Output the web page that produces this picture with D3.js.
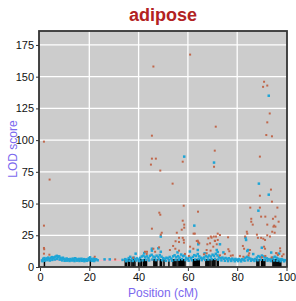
<!DOCTYPE html>
<html>
<head>
<meta charset="utf-8">
<script src="https://cdn.jsdelivr.net/npm/d3@7"></script>
<style>
  body { margin: 0; background: #fff; }
  text { font-family: "Liberation Sans", Arial, sans-serif; }
</style>
</head>
<body>
<svg id="chart" width="296" height="301"></svg>
<script>
// values: [position cM, LOD]
const brownPts = [
  [1.6,98.8],[3.9,68.9],[1.6,32.6],[1.6,15.0],[1.7,14.0],[1.6,10.5],[3.8,9.7],[22.2,8.1],[30.5,6.0],[37.8,7.3],
  [43.4,12.0],[42.6,12.0],[43.3,10.3],
  [60.9,167.4],[46.0,158.0],[90.9,146.0],[92.2,143.0],[90.5,142.0],[93.2,121.0],[92.2,114.0],[71.3,110.6],
  [91.8,104.0],[94.1,103.0],[45.4,103.5],[70.9,91.7],[45.4,85.4],[47.0,85.4],[89.2,87.0],
  [57.9,83.0],[45.0,80.7],[48.8,76.0],[53.8,65.7],[58.3,48.3],[64.1,43.6],[48.4,42.8],[48.8,41.2],[57.9,36.5],
  [58.5,33.4],[58.5,31.0],[45.4,30.2],[57.5,29.4],
  [70.6,79.0],[93.7,61.0],[89.2,56.2],[94.1,51.5],[85.3,46.8],[89.2,46.8],[96.3,46.8],[89.7,39.7],[91.4,39.7],
  [95.5,39.7],[85.7,38.0],[94.5,38.0],[85.7,35.7],[96.8,35.7],[86.3,33.4],[92.2,33.4],[95.0,32.6],[95.5,31.8],
  [55.5,27.0],[62.3,26.3],[62.8,26.3],[49.4,27.0],[49.0,25.5],[72.1,26.3],[70.5,24.0],[69.3,24.0],[57.9,23.0],
  [58.3,21.3],[56.4,23.0],[84.1,26.3],[88.0,25.5],[88.4,23.0],[89.7,23.0],[95.2,27.0],[64.0,20.7],[64.2,19.7],
  [72.1,21.3],[70.9,20.7],[76.3,23.4],[55.0,20.3],[56.4,19.7],[58.4,19.2],[90.6,22.3],[91.3,21.3],[71.7,17.9],
  [67.9,17.9],[82.3,16.6],[82.8,14.4],[90.9,16.0],[91.3,14.4],[54.0,16.6],[54.9,14.4],[60.9,16.0],[62.2,14.4],
  [48.3,15.5],[46.0,14.4],[52.7,13.4],[46.7,12.0],[56.4,12.9],[58.8,10.3],[60.4,8.7],[69.2,12.9],[67.6,10.8],
  [76.4,14.0],[76.8,12.4],[75.0,10.3],[73.0,9.2],[78.2,9.2],[81.1,8.7],[82.5,8.1],[84.6,9.2],[90.0,7.6],
  [91.4,8.7],[94.0,7.6],[95.8,11.0],[96.5,9.5],[97.5,12.5],[98.2,8.5],[98.8,10.0],
  [92.2,25.0],[93.3,24.0],[94.2,27.8],[94.7,31.8],[97.4,14.7],[96.0,10.8],[85.2,13.4],[84.9,10.8],[77.4,8.9],
  [63.6,20.5],[64.6,18.7],[68.3,22.6],[69.6,23.1],[69.0,18.7],[70.3,16.0],[67.6,13.4],[66.5,10.0],[73.0,25.2],
  [83.2,24.0],[83.9,27.8],[71.4,24.0],[71.0,20.5]
];

const blueBand = [
  [0.8,5.2],[1.3,6.5],[1.8,7.0],[2.3,6.1],[2.8,6.8],[3.3,7.4],[3.8,6.2],[4.3,7.1],[4.8,7.8],[5.3,6.9],
  [5.8,7.6],[6.3,8.2],[6.8,8.8],[7.3,7.9],[7.8,8.4],[8.3,7.2],[8.8,6.6],[9.3,7.3],[9.8,6.4],[10.3,5.9],
  [10.8,6.7],[11.3,6.1],[11.8,5.6],[12.3,6.3],[12.8,5.8],[13.3,6.6],[13.8,5.5],[14.3,6.9],[14.8,6.2],[15.3,5.7],
  [15.8,6.4],[16.3,5.9],[16.8,6.5],[17.3,5.6],[17.8,6.2],[18.3,5.4],[18.8,6.0],[19.3,5.7],[19.8,6.8],[20.3,7.6],
  [20.8,6.3],[21.3,5.8],[21.8,6.6],[22.3,5.5],[22.8,6.1],[23.4,5.3],[26.2,6.0],[28.3,6.0],[33.5,5.6],
  [1.0,4.6],[2.0,5.0],[3.0,5.4],[4.0,5.1],[5.0,5.6],[6.0,5.9],[7.0,6.3],[8.0,5.8],[9.0,5.2],[10.0,4.9],
  [11.0,5.0],[12.0,4.8],[13.0,5.1],[14.0,4.7],[15.0,5.0],[16.0,4.8],[17.0,4.9],[18.0,4.6],[19.0,4.9],[20.0,5.3],
  [21.0,4.9],[22.0,4.7],
  [34.6,6.2],[35.3,5.6],[36.0,7.0],[36.6,8.0],[37.3,6.5],[38.0,7.4],[38.6,6.1],[39.3,6.8],[40.0,5.9],[40.6,7.2],
  [41.3,8.3],[42.0,9.0],[42.6,7.6],[43.3,8.4],[44.0,7.1],[44.6,8.8],[45.3,9.6],[46.0,8.2],[46.6,7.5],[47.3,8.9],
  [48.0,7.8],[48.6,9.4],[49.3,8.1],[50.0,7.0],[50.6,6.4],[51.3,7.3],[52.0,6.8],[52.6,7.9],[53.3,6.6],[54.0,8.4],
  [54.6,9.2],[55.3,7.7],[56.0,8.6],[56.6,7.4],[57.3,9.8],[58.0,8.5],[58.6,9.1],[59.3,7.2],[60.0,6.5],[60.6,7.8],
  [61.3,6.9],[62.0,8.0],[62.6,9.3],[63.3,8.7],[64.0,10.2],[64.6,8.4],[65.3,7.3],[66.0,6.7],[66.6,7.5],[67.3,8.6],
  [68.0,7.9],[68.6,9.0],[69.3,8.2],[70.0,9.7],[70.6,8.8],[71.3,10.4],[72.0,9.1],[72.6,7.6],[73.3,6.9],[74.0,7.4],
  [74.6,6.5],[75.3,7.1],[76.0,6.3],[76.6,6.9],[77.3,6.0],[78.0,6.6],[78.6,5.8],[79.3,6.4],[80.0,5.7],[80.6,6.2],
  [81.3,5.5],[82.0,6.1],[82.6,5.8],[83.3,7.2],[84.0,8.0],[84.6,7.4],[85.3,6.6],[86.0,6.0],[86.6,5.7],[87.3,6.3],
  [88.0,7.5],[88.6,8.6],[89.3,7.9],[90.0,9.0],[90.6,8.3],[91.3,7.6],[92.0,6.8],[92.6,6.2],[93.3,5.9],[94.0,6.6],
  [94.6,7.4],[95.3,8.1],[96.0,7.3],[96.6,6.5],[97.3,5.9],[98.0,6.2],[98.6,5.6],[99.3,5.4],
  [35.0,4.6],[36.3,5.0],[37.6,4.8],[39.0,5.1],[40.3,4.7],[41.6,5.3],[43.0,5.6],[44.3,5.2],[45.6,5.9],[47.0,5.5],
  [48.3,6.0],[49.6,5.4],[51.0,4.9],[52.3,5.2],[53.6,5.0],[55.0,5.6],[56.3,5.8],[57.6,6.1],[59.0,5.5],[60.3,5.0],
  [61.6,5.3],[63.0,5.9],[64.3,6.2],[65.6,5.4],[67.0,5.6],[68.3,5.9],[69.6,6.1],[71.0,6.4],[72.3,5.8],[73.6,5.2],
  [75.0,4.9],[76.3,4.7],[77.6,4.8],[79.0,4.6],[80.3,4.7],[81.6,4.5],[83.0,5.0],[84.3,5.3],[85.6,4.9],[87.0,4.8],
  [88.3,5.4],[89.6,5.8],[91.0,5.6],[92.3,5.0],[93.6,4.7],[95.0,5.2],[96.3,5.0],[97.6,4.6],[99.0,4.5]
];

const blueSpikes = [
  [45.4,14.4],[45.4,12.9],[49.0,24.0],[48.0,14.7],[49.0,12.0],[58.5,87.0],[62.6,32.6],[64.2,17.9],[64.0,13.4],
  [71.7,13.4],[72.1,11.8],[73.0,17.9],[70.6,82.3],[84.4,13.4],[84.1,12.6],[83.4,23.0],[83.6,21.3],[90.0,15.2],
  [88.8,65.7],[92.8,57.0],[88.6,44.4],[92.8,135.0],
  [38.8,10.5],[42.3,11.0],[55.8,11.5],[60.8,12.2],[66.8,10.8],[74.4,11.5],[86.5,10.2],[93.8,11.4],[97.0,10.5]
];

const markers = [
  1.8, 20.4, 34.6, 35.1, 35.9, 36.4, 37.3, 37.8, 38.5, 40.0, 40.6, 41.2, 42.0, 42.4, 42.8, 43.2,
  46.2, 46.6, 47.0, 47.4, 48.8, 49.3, 50.3, 52.3, 54.0, 54.4, 54.8, 55.2, 56.0, 56.5, 56.9, 57.5,
  57.9, 58.3, 58.8, 62.2, 62.6, 63.0, 63.4, 63.8, 64.2, 64.6, 67.3, 67.7, 68.1, 68.5, 69.0, 69.8,
  70.2, 70.6, 71.0, 71.9, 72.3, 88.0, 88.4, 88.8, 89.9, 90.3, 90.8, 91.2, 94.5, 94.9, 95.3, 95.7,
  96.1, 96.5, 96.9, 97.3, 97.7
];

const threshold = 5.3;
const xTicks = [0, 20, 40, 60, 80, 100];
const yTicks = [0, 25, 50, 75, 100, 125, 150, 175];

const svg = d3.select("#chart");
const x = d3.scaleLinear().domain([0, 100]).range([40, 286.5]);
const y = d3.scaleLinear().domain([0, 186]).range([267, 31]);

// panel
svg.append("rect")
  .attr("x", x(0) - 1).attr("y", y(186))
  .attr("width", x(100) - x(0) + 1.5).attr("height", y(0) - y(186))
  .attr("fill", "#cccccc");

// grid
svg.append("g").selectAll("line").data(xTicks.slice(1, -1)).join("line")
  .attr("x1", d => x(d)).attr("x2", d => x(d))
  .attr("y1", y(186)).attr("y2", y(0))
  .attr("stroke", "#fff").attr("stroke-width", 1.3);
svg.append("g").selectAll("line").data(yTicks.slice(1)).join("line")
  .attr("x1", x(0) - 1).attr("x2", x(100) + 0.5)
  .attr("y1", d => y(d)).attr("y2", d => y(d))
  .attr("stroke", "#fff").attr("stroke-width", 1.3);

// threshold line
svg.append("line")
  .attr("x1", x(0)).attr("x2", x(100))
  .attr("y1", y(threshold)).attr("y2", y(threshold))
  .attr("stroke", "#ffb0c0").attr("stroke-width", 1);

// markers rug
svg.append("g").selectAll("line").data(markers).join("line")
  .attr("x1", d => x(d)).attr("x2", d => x(d))
  .attr("y1", y(0)).attr("y2", y(0) - 8)
  .attr("stroke", "#000").attr("stroke-width", 1.5);

// points
const blueAll = blueBand.concat(blueSpikes);
svg.append("g").selectAll("rect").data(blueAll).join("rect")
  .attr("x", d => x(d[0]) - 1.25).attr("y", d => y(d[1]) - 1.25)
  .attr("width", 2.5).attr("height", 2.5)
  .attr("fill", "#1ea5d6");
svg.append("g").selectAll("rect").data(brownPts).join("rect")
  .attr("x", d => x(d[0]) - 1).attr("y", d => y(d[1]) - 1)
  .attr("width", 2).attr("height", 2)
  .attr("fill", "#c0674b");

// frame
svg.append("rect")
  .attr("x", x(0) - 1).attr("y", y(186))
  .attr("width", x(100) - x(0) + 1.5).attr("height", y(0) - y(186))
  .attr("fill", "none").attr("stroke", "#333").attr("stroke-width", 1.8);

// axes
const xAxis = svg.append("g").attr("transform", `translate(0,${y(0) + 1})`)
  .call(d3.axisBottom(x).tickValues(xTicks).tickSize(3).tickPadding(2));
const yAxis = svg.append("g").attr("transform", `translate(${x(0) - 1},0)`)
  .call(d3.axisLeft(y).tickValues(yTicks).tickSize(3).tickPadding(2));
[xAxis, yAxis].forEach(g => {
  g.select(".domain").remove();
  g.selectAll(".tick line").attr("stroke", "#333");
  g.selectAll(".tick text").attr("font-size", 11).attr("fill", "#111")
    .attr("font-family", "Liberation Sans, Arial, sans-serif");
});

// title and labels
svg.append("text")
  .attr("x", 163).attr("y", 21).attr("text-anchor", "middle")
  .attr("font-size", 18).attr("font-weight", "bold").attr("fill", "#b22222")
  .text("adipose");
svg.append("text")
  .attr("x", 163).attr("y", 297).attr("text-anchor", "middle")
  .attr("font-size", 12).attr("fill", "#7b68ee")
  .text("Position (cM)");
svg.append("text")
  .attr("transform", "translate(17,149) rotate(-90)").attr("text-anchor", "middle")
  .attr("font-size", 12).attr("fill", "#7b68ee")
  .text("LOD score");
</script>
</body>
</html>
